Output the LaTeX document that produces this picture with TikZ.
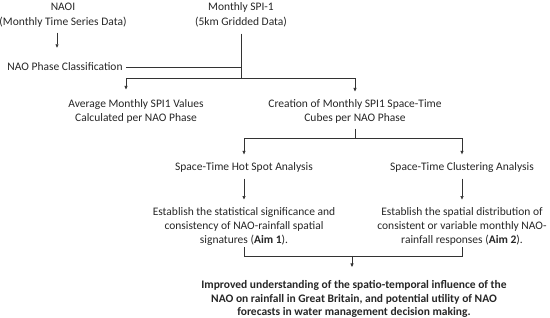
\documentclass[tikz,border=0pt]{standalone}
\usepackage{fontspec}
\setmainfont{Carlito}
\usepackage{tikz}
\usetikzlibrary{positioning,calc,arrows.meta}
\tikzset{t/.style={align=center,inner sep=0pt,text=black!85,font=\fontsize{11.5}{13.8}\selectfont},
	ln/.style={line width=.6pt,draw=black!80},
	ar/.style={ln,-{Triangle[length=3.5pt,width=3pt]}}}

\begin{document}
\begin{tikzpicture}[x=1pt,y=-1pt]
	\useasboundingbox (0,0) rectangle (550,318);
	\node[t] (naoi) at (63,15) {NAOI\\[1.5pt](Monthly Time Series Data)};
	\node[t] (spi) at (241,15) {Monthly SPI-1\\[1.5pt](5km Gridded Data)};
	\node[t] (phase) at (65,67) {NAO Phase Classification};
	\node[t] (avg) at (136,111.5) {Average Monthly SPI1 Values\\Calculated per NAO Phase};
	\node[t] (create) at (355,111.5) {Creation of Monthly SPI1 Space-Time\\Cubes per NAO Phase};
	\node[t] (hot) at (244,167.5) {Space-Time Hot Spot Analysis};
	\node[t] (clus) at (462,167.5) {Space-Time Clustering Analysis};
	\node[t] (sig1) at (244,226.5) {Establish the statistical significance and\\consistency of NAO-rainfall spatial\\signatures (\textbf{Aim 1}).};
	\node[t] (sig2) at (462,226.5) {Establish the spatial distribution of\\consistent or variable monthly NAO-\\rainfall responses (\textbf{Aim 2}).};
	\node[t,font=\bfseries\fontsize{11.5}{13.8}\selectfont] (final) at (354,299) {Improved understanding of the spatio-temporal influence of the\\NAO on rainfall in Great Britain, and potential utility of NAO\\forecasts in water management decision making.};
	\path (spi.south |- 0,78) coordinate (j1)
	      (create.south |- 0,138) coordinate (j2)
	      (352,256) coordinate (j3);
	% top part
	\draw[ar,shorten <=5pt,shorten >=15pt] ([xshift=-6pt]naoi.south) -- ([xshift=-6pt]naoi.south |- phase.north);
	\draw[ln,shorten <=6pt] (spi.south) -- (j1);
	\draw[ln,shorten <=3pt] (phase.east) -- (phase.east -| j1);
	\draw[ar,shorten >=10pt] (j1) -| ([xshift=-10pt]avg.north);
	\draw[ar,shorten >=8pt] (j1) -| (create.north);
	% analyses
	\draw[ln,shorten <=5pt] (create.south) -- (j2);
	\draw[ar,shorten >=8pt] (j2) -| (hot.north);
	\draw[ar,shorten >=8pt] (j2) -| (clus.north);
	\draw[ar,shorten <=6pt,shorten >=8pt] (hot.south) -- (sig1.north);
	\draw[ar,shorten <=6pt,shorten >=8pt] (clus.south) -- (sig2.north);
	% outcome
	\draw[ln,shorten <=2pt,shorten >=2pt] (sig1.south) |- (j3 -| sig2.south) -- (sig2.south);
	\draw[ar,shorten >=13pt] (j3) -- (j3 |- final.north);
\end{tikzpicture}
\end{document}
